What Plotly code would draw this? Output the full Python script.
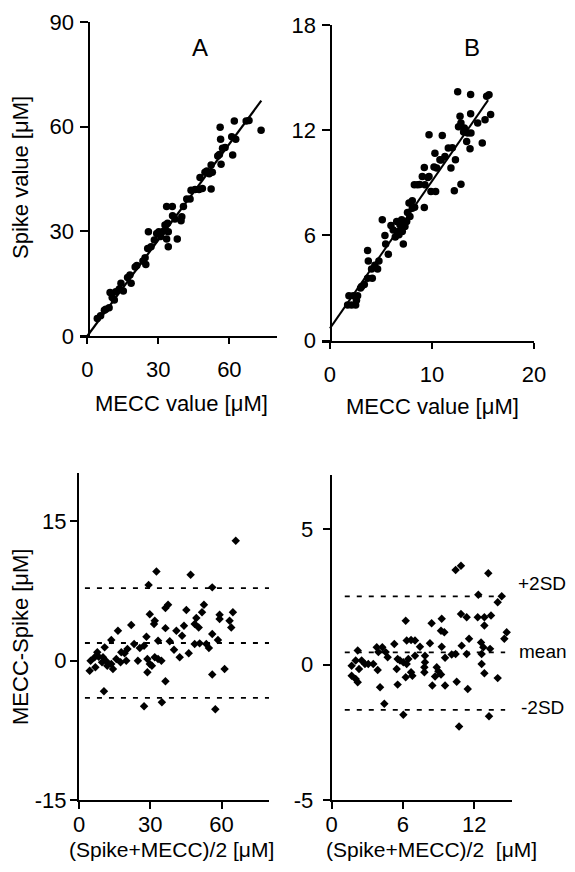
import plotly.graph_objects as go

PAGE_W, PAGE_H = 575, 872
OFF = 8  # the page body adds an 8px margin around the figure
W, H = PAGE_W - OFF, PAGE_H - 2 * OFF  # figure fits the window without scrollbars
FONT = "Liberation Sans, Arial, sans-serif"

# ---------------- data ----------------
# Panel A: Spike value vs MECC value
A_mecc = [4.2, 5.6, 7.2, 7.8, 9.2, 9.6, 12.0, 11.4, 10.5, 14.2, 15.2, 13.5, 18.0, 18.5, 17.0,
          20.9, 20.2, 24.4, 24.7, 23.5, 25.5, 26.9, 25.8, 28.3, 29.3, 30.2, 31.0, 32.8, 33.9, 32.2,
          33.5, 35.9, 34.2, 33.5, 34.2, 36.0, 37.0, 38.0, 39.9, 39.6, 40.6, 42.0, 43.4, 43.8, 45.5,
          47.2, 48.6, 47.6, 49.7, 50.5, 52.3, 52.3, 52.8, 51.5, 55.1, 56.5, 55.8, 56.1, 56.3, 57.1,
          58.2, 61.4, 61.0, 62.7, 62.1, 67.1, 68.3, 73.4]
A_spike = [5.0, 5.8, 7.4, 7.7, 8.1, 12.5, 12.7, 10.3, 11.0, 15.1, 12.9, 13.5, 17.5, 15.1, 16.8,
           20.2, 19.8, 22.4, 20.5, 21.5, 25.1, 25.6, 29.9, 27.5, 29.4, 29.9, 28.5, 31.8, 32.3, 30.0,
           37.1, 37.1, 25.6, 27.8, 29.9, 34.5, 33.5, 27.8, 34.2, 33.0, 37.1, 39.3, 39.3, 41.8, 42.0,
           42.0, 42.3, 45.4, 46.9, 47.3, 42.1, 49.0, 46.9, 46.5, 51.6, 49.2, 52.0, 59.8, 56.4, 53.8,
           54.0, 51.9, 57.1, 56.4, 61.6, 61.6, 61.8, 59.0]
A_slope, A_intercept, A_xmax = 0.918, 0.0, 73.5

# Panel B
B_mecc = [1.73, 2.12, 2.52, 1.86, 2.29, 2.71, 3.10, 3.37, 3.69, 4.15, 3.69, 3.76, 4.08, 4.67, 4.80,
          5.13, 5.39, 5.46, 5.72, 5.98, 6.54, 6.86, 7.03, 7.35, 6.76, 7.19, 7.09, 7.52, 7.84, 7.75,
          8.07, 8.07, 9.25, 8.27, 8.59, 9.25, 9.05, 9.71, 9.31, 9.90, 10.36, 9.71, 10.29, 10.46, 10.78,
          11.01, 11.27, 11.60, 11.86, 12.00, 12.30, 12.19, 12.84, 12.52, 12.75, 12.84, 13.17, 13.50, 13.40,
          13.82, 13.73, 13.79, 13.79, 14.48, 14.93, 15.20, 15.36, 15.59, 15.75,
          6.2, 6.6, 7.0, 6.4, 7.6, 8.3, 8.8, 9.6, 10.2, 10.9, 12.6, 13.1, 4.4, 3.0, 2.6]
B_spike = [2.03, 2.03, 2.03, 2.56, 2.56, 2.56, 3.08, 3.20, 3.55, 3.55, 5.13, 4.54, 4.08, 4.08, 4.54,
           6.89, 5.99, 5.50, 4.92, 6.56, 6.79, 6.60, 6.89, 6.50, 6.03, 5.51, 6.22, 6.79, 7.08, 7.84,
           7.97, 7.55, 7.59, 8.89, 8.89, 9.87, 9.36, 9.36, 8.89, 8.50, 8.50, 11.74, 10.69, 9.84, 10.31,
           11.70, 10.50, 10.98, 9.84, 11.00, 10.31, 8.54, 8.92, 14.19, 12.79, 12.41, 12.12, 11.84, 11.36,
           11.84, 10.94, 14.03, 12.93, 12.41, 11.27, 12.60, 13.93, 14.02, 12.89,
           6.3, 6.2, 6.4, 5.9, 7.3, 7.6, 8.9, 9.3, 9.9, 10.3, 12.2, 11.9, 4.3, 3.0, 2.3]
B_slope, B_intercept, B_xmax = 0.84, 0.69, 15.5

# Panel C: Bland-Altman (MECC - Spike) vs average
C_avg = [66.0, 32.6, 47.0, 29.3, 56.1, 37.5, 36.4, 45.2, 52.6, 51.8, 49.4, 48.7, 50.4, 59.2, 59.2,
         64.8, 63.4, 64.1, 29.8, 31.9, 31.6, 36.4, 44.2, 41.0, 43.4, 22.0, 16.4, 13.6, 28.4, 33.3,
         38.2, 48.7, 50.8, 53.6, 54.7, 56.1, 58.5, 23.2, 25.6, 27.4, 40.0, 46.2, 42.4, 20.4, 19.2,
         17.8, 17.5, 19.9, 24.8, 28.8, 29.8, 31.9, 33.3, 30.7, 34.7, 10.8, 7.7, 8.3, 10.1, 6.6,
         4.9, 4.5, 6.9, 11.5, 11.9, 13.6, 14.3, 15.7, 9.7, 28.8, 36.4, 56.1, 61.3, 10.5, 27.4,
         34.9, 57.4]
C_diff = [12.9, 9.6, 9.25, 8.14, 7.89, 6.02, 5.66, 5.45, 6.02, 5.2, 4.59, 3.94, 3.58, 4.95, 4.48,
          5.2, 4.3, 3.58, 5.0, 4.3, 3.94, 3.5, 3.76, 3.23, 2.69, 3.84, 3.23, 2.22, 2.58, 2.15,
          2.08, 1.79, 1.86, 1.79, 1.36, 2.87, 2.22, 1.79, 1.36, 1.61, 1.18, 0.79, 0.36, 1.25, 0.79,
          0.9, -0.18, 0.0, 0.0, 0.18, -0.36, 0.36, 0.18, -0.54, 0.0, 1.43, 0.9, 0.43, 0.36, 0.36,
          0.0, -1.08, -0.72, -0.07, -0.54, -0.36, -0.9, 0.18, -0.18, -1.25, -2.22, -1.5, -0.9, -3.3, -4.9,
          -4.48, -5.23]
C_mean, C_plus2sd, C_minus2sd = 1.9, 7.8, -4.0
C_line_x = [2.5, 80]

# Panel D
D_avg = [10.43, 10.88, 13.18, 12.34, 14.31, 13.97, 10.88, 11.36, 12.29, 12.85, 13.41, 12.85, 9.26, 8.41,
         9.20, 9.48, 6.23, 14.73, 14.53, 11.56, 10.94, 12.57, 12.76, 13.33, 12.62, 9.26, 8.27, 6.31,
         6.68, 7.01, 5.27, 7.43, 7.85, 3.79, 4.26, 3.93, 2.19, 4.54, 4.71, 5.55, 5.75, 6.03, 6.31,
         6.45, 7.01, 7.85, 7.80, 9.54, 10.10, 10.43, 11.36, 2.02, 2.52, 2.80, 3.08, 3.50, 1.68, 2.30,
         1.68, 2.02, 2.19, 3.87, 5.47, 6.68, 6.23, 6.79, 7.80, 8.84, 8.98, 9.20, 8.70, 8.47, 9.54,
         10.52, 11.45, 12.62, 12.85, 13.97, 5.55, 4.07, 4.43, 6.03, 13.24, 10.72]
D_diff = [3.49, 3.65, 3.37, 2.58, 2.52, 2.30, 1.87, 1.75, 1.75, 1.75, 1.81, 1.44, 1.69, 1.53,
          1.25, 1.19, 1.62, 1.19, 0.95, 0.95, 0.70, 0.82, 0.64, 0.58, 0.39, 0.66, 0.79, 0.89,
          0.91, 0.89, 0.76, 0.66, 0.33, 0.64, 0.64, 0.46, 0.52, 0.46, 0.27, 0.21, 0.15, 0.09, 0.02,
          0.21, 0.33, 0.09, -0.10, 0.25, 0.37, 0.39, 0.39, 0.15, 0.15, 0.02, 0.02, 0.02, -0.04, -0.16,
          -0.41, -0.53, -0.65, -0.20, -0.16, -0.28, -0.47, -0.41, -0.28, -0.10, -0.25, -0.37, -0.44, -0.77,
          -0.77, -0.63, -0.90, 0.02, -0.32, -0.50, -0.74, -0.84, -1.45, -1.85, -1.91, -2.29]
D_mean, D_plus2sd, D_minus2sd = 0.45, 2.52, -1.67
D_line_x = [1.1, 14.6]

# tick values and labels
A_xticks, A_yticks = [0, 30, 60], [0, 30, 60, 90]
B_xticks, B_yticks = [0, 10, 20], [0, 6, 12, 18]
C_xticks, C_yticks = [0, 30, 60], [-15, 0, 15]
C_yticktext = ["-15", "0", "15"]
D_xticks, D_yticks = [0, 6, 12], [-5, 0, 5]
D_yticktext = ["-5", "0", "5"]


# ---------------- helpers (page pixel -> paper fraction) ----------------
def fx(p):
    return (p - OFF) / W


def fy(p):
    return 1 - (p - OFF) / H


fig = go.Figure()

circ = dict(symbol="circle", size=7.5, color="black")
diam = dict(symbol="diamond", size=6.5, color="black")

# Panel A
fig.add_trace(go.Scatter(x=A_mecc, y=A_spike, mode="markers", marker=circ, xaxis="x", yaxis="y"))
fig.add_trace(go.Scatter(x=[0, A_xmax], y=[A_intercept, A_intercept + A_slope * A_xmax],
                         mode="lines", line=dict(color="black", width=2.2), xaxis="x", yaxis="y"))
# Panel B
fig.add_trace(go.Scatter(x=B_mecc, y=B_spike, mode="markers", marker=circ, xaxis="x2", yaxis="y2"))
fig.add_trace(go.Scatter(x=[0, B_xmax], y=[B_intercept, B_intercept + B_slope * B_xmax],
                         mode="lines", line=dict(color="black", width=2), xaxis="x2", yaxis="y2"))

dash = dict(color="black", width=1.8, dash="5px,7px")
# Panel C
for v in (C_plus2sd, C_mean, C_minus2sd):
    fig.add_trace(go.Scatter(x=C_line_x, y=[v, v], mode="lines", line=dash, xaxis="x3", yaxis="y3"))
fig.add_trace(go.Scatter(x=C_avg, y=C_diff, mode="markers", marker=diam, xaxis="x3", yaxis="y3"))
# Panel D
for v in (D_plus2sd, D_mean, D_minus2sd):
    fig.add_trace(go.Scatter(x=D_line_x, y=[v, v], mode="lines", line=dash, xaxis="x4", yaxis="y4"))
fig.add_trace(go.Scatter(x=D_avg, y=D_diff, mode="markers", marker=diam, xaxis="x4", yaxis="y4"))

tickfont = dict(family=FONT, size=22, color="black")
base = dict(showgrid=False, zeroline=False, showline=True, linecolor="black", linewidth=2,
            ticks="outside", tickcolor="black", tickwidth=2, tickfont=tickfont,
            tickmode="array", fixedrange=True, automargin=False)
inner = dict(showgrid=False, zeroline=False, showline=False, ticks="inside", tickwidth=2,
             tickcolor="black", tickmode="array", showticklabels=False, fixedrange=True,
             automargin=False)

layout = dict(
    width=W, height=H, showlegend=False,
    margin=dict(l=0, r=0, t=0, b=0, autoexpand=False),
    paper_bgcolor="white", plot_bgcolor="rgba(0,0,0,0)",
    font=dict(family=FONT, color="black"),
    xaxis=dict(base, domain=[fx(80), fx(276.7)], range=[-3.1, 80], anchor="y",
               tickvals=A_xticks, ticklen=6, ticklabelstandoff=7),
    yaxis=dict(base, domain=[fy(336), fy(22)], range=[0, 90], anchor="free", position=fx(88.5),
               tickvals=A_yticks, ticklen=8, ticklabelstandoff=1),
    xaxis2=dict(base, domain=[fx(322.3), fx(534)], range=[-0.75, 20], anchor="y2",
                tickvals=B_xticks, ticklen=6, ticklabelstandoff=7),
    yaxis2=dict(base, domain=[fy(340.5), fy(25)], range=[0, 18], anchor="free", position=fx(330.5),
                tickvals=B_yticks, ticklen=8, ticklabelstandoff=1),
    xaxis3=dict(base, domain=[fx(79), fx(269)], range=[0, 80], anchor="y3",
                tickvals=C_xticks, ticklen=7, ticklabelstandoff=-3),
    yaxis3=dict(base, domain=[fy(800), fy(473)], range=[-15, 20.2], anchor="x3",
                tickvals=C_yticks, ticktext=C_yticktext, ticklen=7, ticklabelstandoff=-1),
    xaxis4=dict(base, domain=[fx(331.7), fx(511.7)], range=[0, 15.15], anchor="y4",
                tickvals=D_xticks, ticklen=7, ticklabelstandoff=-3),
    yaxis4=dict(base, domain=[fy(800), fy(475)], range=[-5, 7], anchor="x4",
                tickvals=D_yticks, ticktext=D_yticktext, ticklen=7, ticklabelstandoff=5),
    # inner halves of the crossing ticks
    xaxis5=dict(inner, overlaying="x3", anchor="y3", range=[0, 80], ticklen=6, tickvals=C_xticks[1:]),
    yaxis5=dict(inner, overlaying="y3", anchor="x3", range=[-15, 20.2], ticklen=7, tickvals=C_yticks[1:]),
    xaxis6=dict(inner, overlaying="x4", anchor="y4", range=[0, 15.15], ticklen=6, tickvals=D_xticks[1:]),
    yaxis6=dict(inner, overlaying="y4", anchor="x4", range=[-5, 7], ticklen=7, tickvals=D_yticks[1:]),
)
fig.update_layout(**layout)


def ann(text, px, py, size=22, angle=0, xanchor="center"):
    fig.add_annotation(text=text, x=fx(px), y=fy(py), xref="paper", yref="paper",
                       showarrow=False, xanchor=xanchor, yanchor="middle", textangle=angle,
                       font=dict(family=FONT, size=size, color="black"))


ann("A", 200, 47, size=24)
ann("B", 471.7, 47, size=24)
ann("MECC value [μM]", 181, 403)
ann("Spike value [μM]", 20, 178, angle=-90)
ann("MECC value [μM]", 432.5, 406)
ann("MECC-Spike [μM]", 20, 637, angle=-90)
ann("(Spike+MECC)/2 [μM]", 171, 849, size=21)
ann("(Spike+MECC)/2  [μM]", 431, 849, size=21)
ann("+2SD", 516, 583, size=19, xanchor="left")
ann("mean", 517, 651, size=19, xanchor="left")
ann("-2SD", 519, 707, size=19, xanchor="left")

fig.write_html("out.html")
